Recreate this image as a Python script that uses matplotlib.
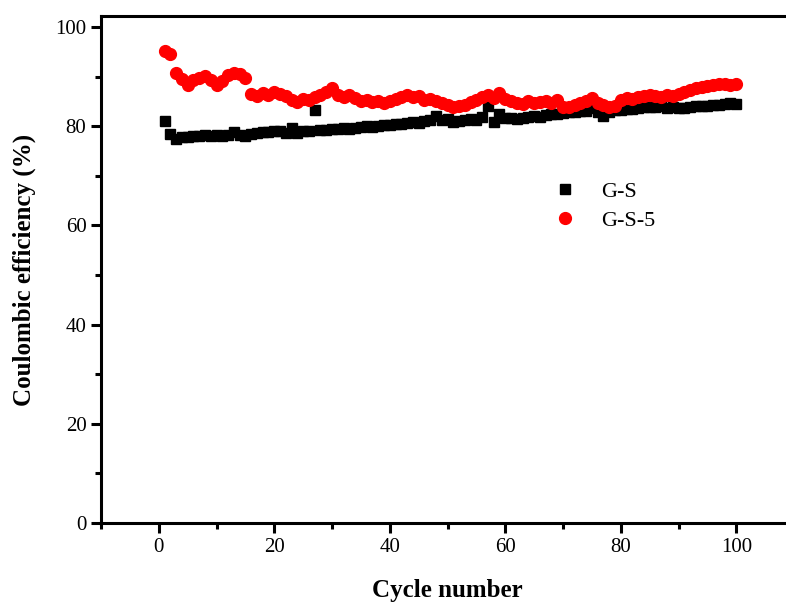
import numpy as np
import matplotlib.pyplot as plt
from matplotlib.ticker import MultipleLocator

cycles = np.arange(1, 101)

gs = [81.0, 78.5, 77.4, 77.8, 77.8, 78.0, 78.0, 78.2, 78.0, 78.2,
      78.0, 78.2, 78.8, 78.2, 78.0, 78.4, 78.6, 78.8, 78.8, 79.0,
      79.0, 78.6, 79.6, 78.6, 79.0, 79.0, 83.2, 79.2, 79.2, 79.4,
      79.4, 79.6, 79.4, 79.6, 79.8, 80.0, 79.8, 80.0, 80.2, 80.2,
      80.4, 80.4, 80.6, 80.8, 80.6, 81.0, 81.2, 82.0, 81.2, 81.4,
      80.8, 81.0, 81.2, 81.4, 81.2, 81.8, 84.0, 80.8, 82.4, 81.6,
      81.6, 81.4, 81.6, 81.8, 82.0, 81.8, 82.2, 82.4, 82.4, 82.6,
      82.8, 82.8, 83.0, 83.0, 83.6, 82.8, 82.0, 82.8, 83.2, 83.2,
      83.4, 83.4, 83.6, 83.8, 83.8, 83.8, 84.0, 83.6, 83.8, 83.6,
      83.6, 83.8, 84.0, 84.0, 84.0, 84.2, 84.2, 84.4, 84.6, 84.4]

gs5 = [95.2, 94.6, 90.8, 89.5, 88.2, 89.2, 89.8, 90.2, 89.2, 88.2,
       89.0, 90.3, 90.8, 90.6, 89.8, 86.5, 86.0, 86.6, 86.2, 86.8,
       86.4, 86.0, 85.2, 84.8, 85.5, 85.2, 85.8, 86.2, 86.8, 87.6,
       86.2, 85.8, 86.2, 85.6, 85.0, 85.2, 84.9, 85.0, 84.6, 85.0,
       85.4, 85.8, 86.2, 85.9, 86.1, 85.2, 85.4, 85.0, 84.6, 84.2,
       83.8, 84.0, 84.3, 84.8, 85.2, 85.8, 86.2, 85.6, 86.6, 85.4,
       85.0, 84.6, 84.4, 85.0, 84.6, 84.8, 85.0, 84.6, 85.2, 83.8,
       83.8, 84.2, 84.6, 85.0, 85.6, 84.6, 84.2, 83.8, 84.0, 85.2,
       85.6, 85.4, 85.8, 86.0, 86.2, 86.0, 85.8, 86.2, 86.0, 86.4,
       86.8, 87.2, 87.6, 87.8, 88.0, 88.2, 88.4, 88.4, 88.2, 88.4]

plt.rcParams['font.family'] = ['Liberation Serif', 'DejaVu Serif']

fig = plt.figure(figsize=(7.86, 6.06), dpi=100)
# the original image is cropped on the right, so the axes run past the edge
ax = fig.add_axes([0.1285, 0.137, 0.8817, 0.8366])

ax.plot(cycles, gs, 's', color='black', markersize=7.5, label='G-S')
ax.plot(cycles, gs5, 'o', color='red', markersize=8.5, label='G-S-5')

ax.set_xlim(-10, 110)
ax.set_ylim(0, 102.2)
ax.xaxis.set_major_locator(MultipleLocator(20))
ax.xaxis.set_minor_locator(MultipleLocator(10))
ax.yaxis.set_major_locator(MultipleLocator(20))
ax.yaxis.set_minor_locator(MultipleLocator(10))
ax.set_xticks([0, 20, 40, 60, 80, 100])

for s in ax.spines.values():
    s.set_linewidth(2.2)
ax.tick_params(which='both', direction='out', width=2.2, labelsize=15)
ax.tick_params(which='major', length=7)
ax.tick_params(which='minor', length=4)
ax.tick_params(top=False, right=False)

ax.set_xlabel('Cycle number', fontsize=18, fontweight='bold', labelpad=16)
ax.set_ylabel('Coulombic efficiency (%)', fontsize=18, fontweight='bold', labelpad=14)

ax.legend(loc='upper left', bbox_to_anchor=(0.609, 0.714), frameon=False,
          fontsize=16, handletextpad=0.6, labelspacing=0.4)

fig.savefig('out.png', dpi=100)
